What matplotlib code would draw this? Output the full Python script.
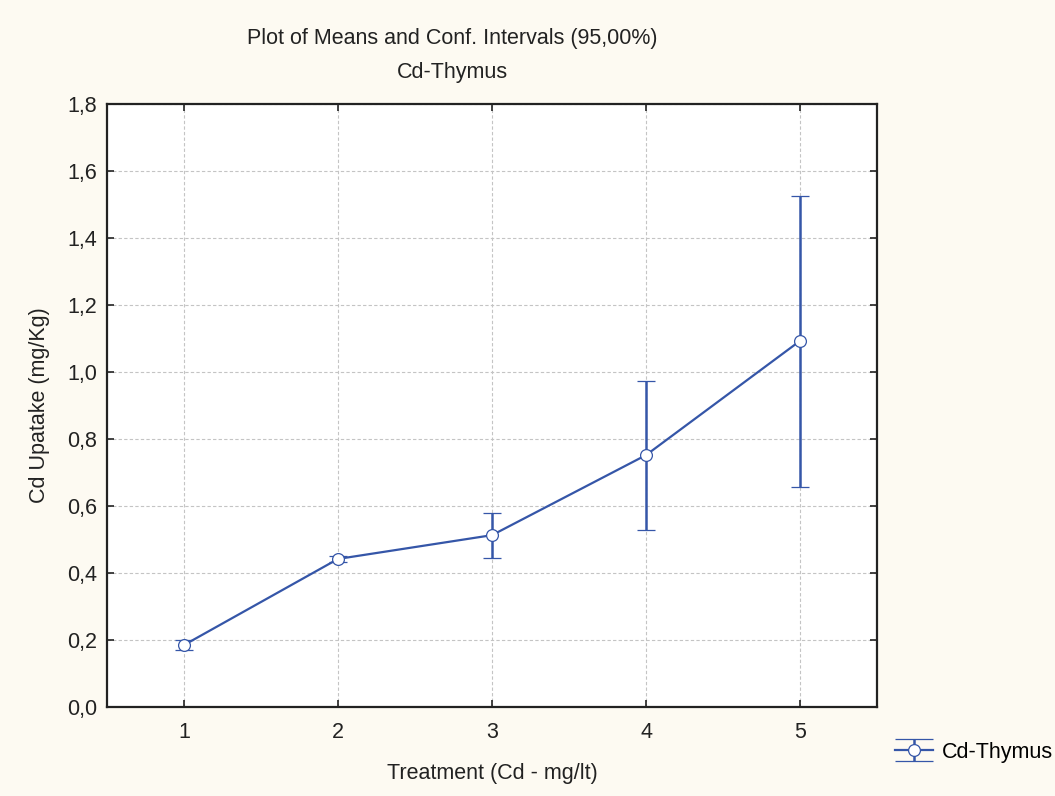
import matplotlib
matplotlib.use("Agg")
import matplotlib.pyplot as plt
from matplotlib.legend_handler import HandlerErrorbar
from matplotlib.lines import Line2D
import numpy as np

plt.rcParams['font.family'] = ['Liberation Sans', 'DejaVu Sans']

treatment = [1, 2, 3, 4, 5]
means = [0.185, 0.442, 0.513, 0.752, 1.093]
ci_low = [0.171, 0.434, 0.446, 0.528, 0.658]
ci_high = [0.199, 0.450, 0.578, 0.973, 1.525]
yticks = [0.0, 0.2, 0.4, 0.6, 0.8, 1.0, 1.2, 1.4, 1.6, 1.8]
ytick_labels = ["0,0", "0,2", "0,4", "0,6", "0,8", "1,0", "1,2", "1,4", "1,6", "1,8"]

line_color = '#3556a8'
text_color = '#222222'
fs = 15.5


class WideCapHandler(HandlerErrorbar):
    # caps drawn across the whole handle, like the original legend
    def create_artists(self, legend, orig_handle, xdescent, ydescent,
                       width, height, fontsize, trans):
        artists = super().create_artists(legend, orig_handle, xdescent, ydescent,
                                         width, height, fontsize, trans)
        for a in artists:
            if isinstance(a, Line2D) and a.get_marker() == '_':
                a.set_markersize(width)
        return artists


fig = plt.figure(figsize=(10.55, 7.96), dpi=100, facecolor='#fdfaf2')
ax = fig.add_axes([0.1014, 0.1118, 0.7299, 0.7575])
ax.set_facecolor('white')

means_arr = np.array(means)
yerr = [means_arr - np.array(ci_low), np.array(ci_high) - means_arr]
eb = ax.errorbar(treatment, means, yerr=yerr, color=line_color, lw=1.6,
                 elinewidth=1.8, capsize=6.5, capthick=2.0,
                 marker='o', markersize=8.5, markerfacecolor='white',
                 markeredgecolor=line_color, markeredgewidth=0.9,
                 label='Cd-Thymus', zorder=3)

ax.set_xlim(0.5, 5.5)
ax.set_ylim(0, 1.8)
ax.set_xticks(treatment)
ax.set_yticks(yticks)
ax.set_yticklabels(ytick_labels)
ax.grid(True, color='#c4c4c4', linestyle=(0, (3, 2)), linewidth=0.8)
ax.tick_params(direction='in', top=True, right=True, length=5, width=1.2,
               labelsize=fs, colors=text_color)
ax.tick_params(axis='y', pad=7)
ax.tick_params(axis='x', pad=11)
for s in ax.spines.values():
    s.set_linewidth(1.6)
    s.set_color(text_color)

ax.set_xlabel("Treatment (Cd - mg/lt)", fontsize=fs, color=text_color, labelpad=14)
ax.set_ylabel("Cd Upatake (mg/Kg)", fontsize=fs, color=text_color, labelpad=12)

fig.text(0.4287, 0.952, "Plot of Means and Conf. Intervals (95,00%)",
         ha='center', va='center', fontsize=fs, color=text_color)
fig.text(0.4287, 0.909, "Cd-Thymus", ha='center', va='center',
         fontsize=fs, color=text_color)

fig.legend(handles=[eb], labels=['Cd-Thymus'], loc='center left',
           bbox_to_anchor=(0.848, 0.055), frameon=False,
           fontsize=fs, handlelength=1.8, handletextpad=0.4,
           borderaxespad=0, borderpad=0,
           handler_map={type(eb): WideCapHandler(yerr_size=0.5)})

plt.savefig('out.png', dpi=100, facecolor=fig.get_facecolor())
